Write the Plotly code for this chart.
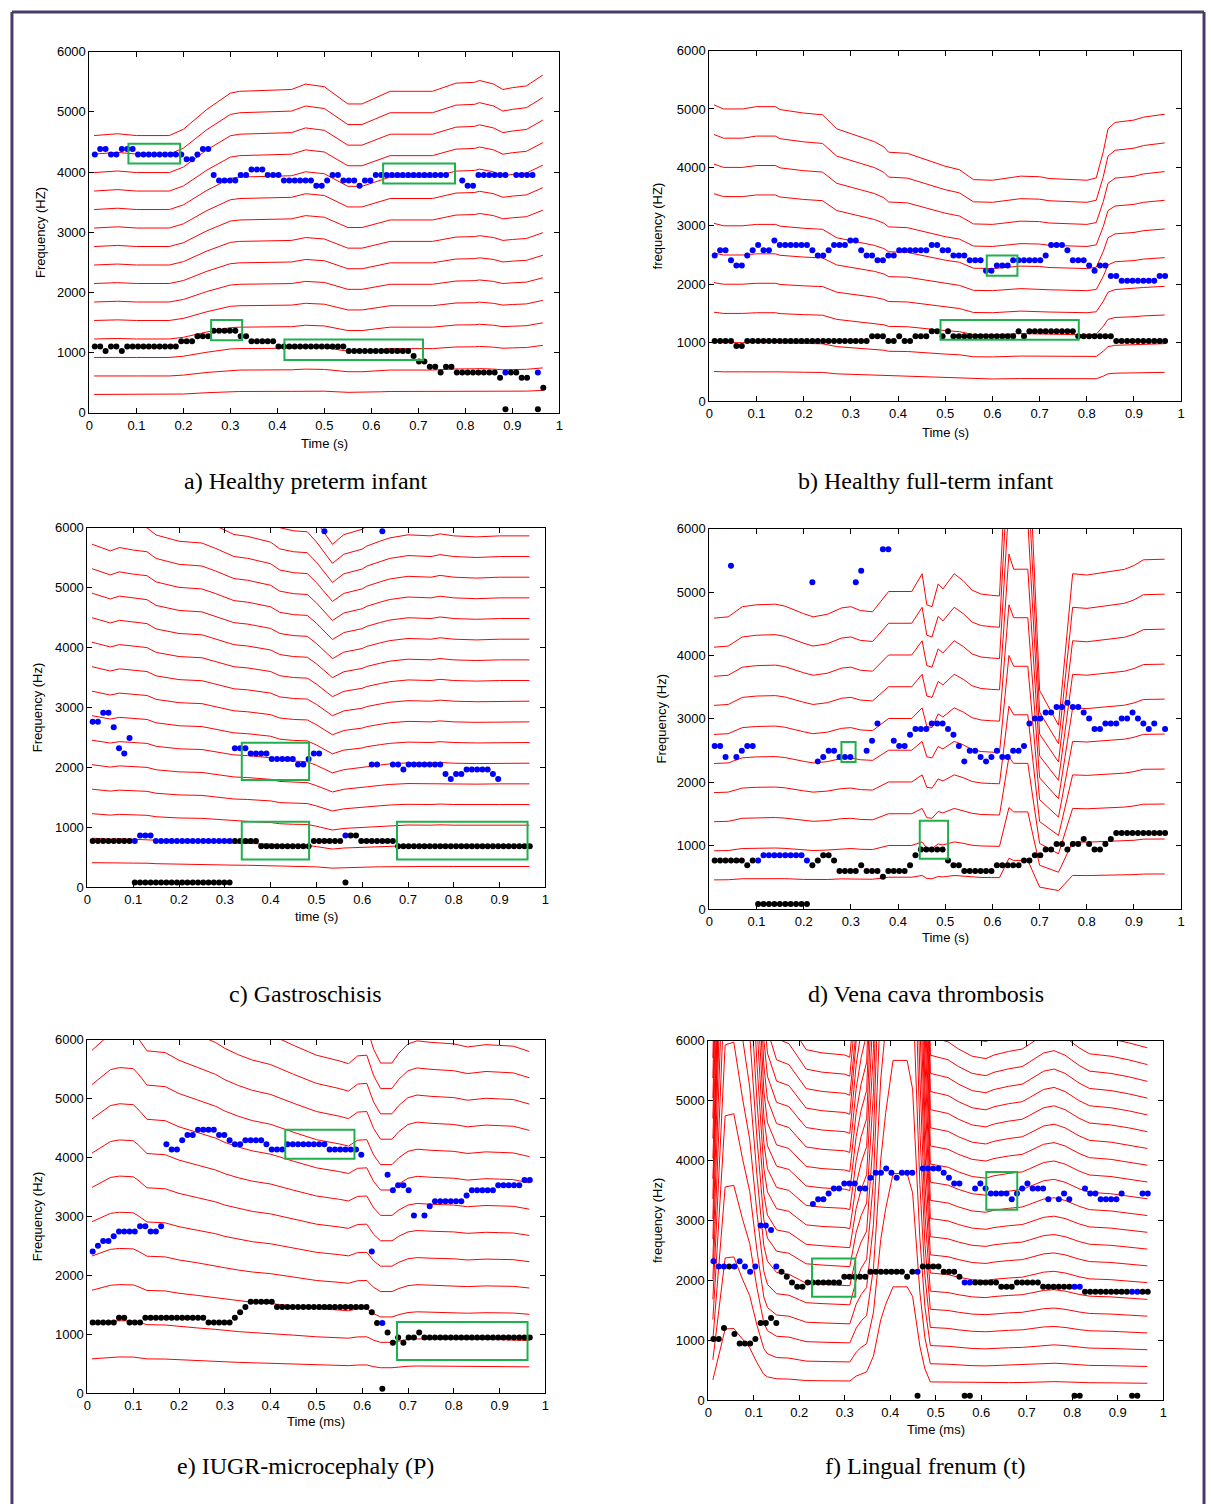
import plotly.graph_objects as go

W, H = 1211, 1512

# analysis frames shared by all six recordings
FRAME_START = 0.0114
FRAME_STEP = 0.0115
N_FRAMES = 84

# ---------------- a) Healthy preterm infant ----------------
A_F0_T = [0.01, 0.06, 0.10, 0.17, 0.20, 0.25, 0.30, 0.32, 0.43, 0.46, 0.50, 0.55,
          0.58, 0.62, 0.64, 0.73, 0.78, 0.82, 0.83, 0.86, 0.88, 0.90, 0.93, 0.965]
A_F0 = [307, 309, 307, 307, 314, 336, 354, 356, 358, 364, 361, 342,
        342, 351, 356, 356, 365, 366, 368, 364, 358, 360, 362, 374]
A_HARMONICS = 15
A_BLUE = [[1, 4290], [2, 4380], [2, 4290], [3, 4380], [9, 4290], [2, 4210], [1, 4290],
          [2, 4380], [1, 3950], [4, 3860], [2, 3950], [3, 4040], [3, 3950], [6, 3860],
          [2, 3770], [1, 3860], [2, 3950], [3, 3860], [1, 3770], [2, 3860], [14, 3950],
          [2, None], [1, 3860], [2, 3770], [6, 3950], [1, None], [4, 3950], [2, None],
          [1, 3860]]
A_BLUE_LOW = [[76, None], [1, 672], [5, None], [1, 672], [1, None]]
A_BLACK = [[2, 1104], [1, 1027], [2, 1104], [1, 1027], [10, 1104], [3, 1191], [3, 1273],
           [5, 1366], [2, 1273], [5, 1191], [13, 1104], [12, 1027], [1, 945], [2, 852],
           [2, 765], [1, 672], [2, 765], [8, 672], [1, 585], [1, 60], [2, 672], [2, 585],
           [1, None], [1, 60], [1, 420]]
A_BOXES = [[0.083, 0.193, 4142, 4470], [0.625, 0.778, 3809, 4142],
           [0.259, 0.325, 1208, 1541], [0.415, 0.710, 880, 1219]]

# ---------------- b) Healthy full-term infant ----------------
B_F0_T = [0.01, 0.03, 0.07, 0.10, 0.14, 0.15, 0.20, 0.24, 0.27, 0.30, 0.35, 0.37, 0.38,
          0.42, 0.50, 0.53, 0.56, 0.60, 0.66, 0.70, 0.72, 0.80, 0.82, 0.835, 0.845, 0.86,
          0.90, 0.92, 0.965]
B_F0 = [507, 500, 500, 504, 504, 499, 493, 490, 466, 458, 444, 435, 426,
        424, 402, 396, 379, 378, 385, 384, 381, 378, 382, 427, 466, 477,
        481, 486, 491]
B_HARMONICS = 10
B_BLUE = [[1, 2490], [2, 2580], [1, 2410], [2, 2320], [1, 2490], [1, 2580], [1, 2670],
          [2, 2580], [1, 2750], [6, 2670], [1, 2580], [2, 2490], [1, 2580], [3, 2670],
          [2, 2750], [1, 2580], [2, 2490], [2, 2410], [2, 2490], [6, 2580], [2, 2670],
          [2, 2580], [3, 2490], [3, 2410], [2, 2230], [3, 2320], [6, 2410], [1, 2490],
          [3, 2670], [1, 2580], [3, 2410], [1, 2320], [1, 2230], [2, 2320], [2, 2140],
          [7, 2060], [2, 2140]]
B_BLACK = [[4, 1026], [2, 942], [23, 1026], [3, 1111], [2, 1026], [1, 1111], [2, 1026],
           [3, 1111], [2, 1196], [1, 1111], [1, 1196], [12, 1111], [1, 1196], [1, 1111],
           [9, 1196], [7, 1111], [10, 1026]]
B_BOXES = [[0.588, 0.653, 2143, 2493], [0.490, 0.783, 1049, 1387]]

# ---------------- c) Gastroschisis ----------------
C_F0_T = [0.01, 0.05, 0.07, 0.10, 0.13, 0.15, 0.20, 0.25, 0.28, 0.32, 0.35, 0.40, 0.42,
          0.45, 0.48, 0.50, 0.535, 0.56, 0.60, 0.61, 0.64, 0.66, 0.70, 0.75, 0.77, 0.80,
          0.85, 0.90, 0.965]
C_F0 = [409, 401, 405, 402, 400, 392, 385, 383, 377, 368, 366, 360, 353,
        350, 349, 339, 318, 327, 332, 335, 340, 343, 346, 345, 347, 345,
        344, 345, 345]
C_HARMONICS = 18
C_BLUE = [[2, 2760], [2, 2910], [1, 2670], [1, 2320], [1, 2230], [1, 2490], [1, 773],
          [3, 861], [15, 773], [3, 2320], [4, 2230], [5, 2140], [2, 2050], [1, 2140],
          [2, 2230], [1, 5940], [3, None], [1, 861], [4, None], [2, 2050], [1, 5940],
          [1, None], [2, 2050], [1, 1965], [7, 2050], [1, 1890], [1, 1805], [2, 1890],
          [5, 1965], [1, 1890], [1, 1805], [6, None]]
C_BLACK = [[8, 773], [19, 77], [5, 773], [10, 684], [6, 773], [1, 77], [2, 861],
           [7, 773], [26, 684]]
C_BOXES = [[0.337, 0.484, 1788, 2412], [0.337, 0.484, 464, 1093],
           [0.676, 0.961, 464, 1093]]

# ---------------- d) Vena cava thrombosis ----------------
D_F0_T = [0.01, 0.04, 0.07, 0.10, 0.14, 0.16, 0.20, 0.22, 0.25, 0.28, 0.30, 0.32, 0.346,
          0.38, 0.429, 0.451, 0.461, 0.472, 0.485, 0.495, 0.519, 0.538, 0.557, 0.576,
          0.598, 0.615, 0.635, 0.645, 0.675, 0.70, 0.74, 0.77, 0.80, 0.85, 0.88, 0.90,
          0.92, 0.965]
D_F0 = [459, 461, 477, 480, 481, 478, 466, 461, 465, 475, 477, 471, 469,
        501, 501, 529, 480, 477, 513, 505, 529, 518, 503, 497,
        495, 494, 800, 766, 766, 345, 290, 529, 527, 532, 536, 542,
        551, 552]
D_HARMONICS = 10
D_BLUE = [[2, 2570], [1, 2400], [1, 5417], [1, 2400], [1, 2495], [2, 2570], [1, 766],
          [8, 849], [1, 766], [1, 5156], [1, 2328], [1, 2400], [2, 2495], [3, 2400],
          [1, 5156], [1, 5339], [1, 2495], [1, 2656], [1, 2927], [2, 5677], [1, 2656],
          [2, 2570], [1, 2750], [3, 2839], [3, 2927], [1, 2839], [1, 2750], [1, 2570],
          [1, 2328], [2, 2495], [1, 2400], [1, 2328], [1, 2400], [1, 2495], [2, 2400],
          [2, 2495], [1, 2570], [1, 2927], [2, 3005], [2, 3099], [2, 3187], [1, 3255],
          [2, 3187], [1, 3099], [1, 3005], [2, 2839], [3, 2927], [2, 3005], [1, 3099],
          [1, 3005], [1, 2927], [1, 2839], [1, 2927], [1, None], [1, 2839]]
D_BLACK = [[6, 766], [1, 688], [1, 766], [10, 78], [1, 688], [1, 766], [2, 849], [1, 766],
           [4, 599], [1, 688], [3, 599], [1, 510], [4, 599], [1, 688], [1, 849], [5, 937],
           [1, 766], [2, 688], [6, 599], [5, 688], [2, 766], [2, 849], [2, 937], [2, 1026],
           [1, 937], [2, 1026], [1, 1104], [1, 1026], [2, 937], [1, 1026], [1, 1104],
           [10, 1198]]
D_BOXES = [[0.280, 0.310, 2318, 2635], [0.446, 0.506, 792, 1391]]

# ---------------- e) IUGR-microcephaly (P) ----------------
E_F0_T = [0.01, 0.03, 0.05, 0.07, 0.10, 0.11, 0.13, 0.17, 0.20, 0.24, 0.28, 0.30, 0.33,
          0.36, 0.40, 0.45, 0.50, 0.55, 0.57, 0.59, 0.61, 0.625, 0.64, 0.665, 0.68, 0.70,
          0.72, 0.75, 0.80, 0.83, 0.87, 0.90, 0.93, 0.965]
E_F0 = [582, 596, 610, 614, 612, 603, 581, 578, 565, 553, 541, 532, 522,
        514, 507, 492, 478, 470, 466, 477, 478, 449, 431, 431, 444, 456,
        460, 458, 456, 452, 455, 454, 453, 446]
E_HARMONICS = 13
E_BLUE = [[1, 2404], [1, 2500], [2, 2584], [1, 2663], [4, 2742], [2, 2831], [2, 2742],
          [1, 2831], [1, 4225], [2, 4135], [1, 4292], [2, 4382], [4, 4472], [2, 4382],
          [1, 4292], [2, 4225], [4, 4292], [1, 4225], [3, 4135], [8, 4225], [6, 4135],
          [1, 4045], [1, None], [1, 2404], [1, None], [1, 1191], [1, 3708], [1, 3444],
          [2, 3528], [1, 3444], [1, 3017], [1, None], [1, 3017], [1, 3174], [6, 3258],
          [1, 3354], [5, 3444], [5, 3528], [2, 3618]]
E_BLACK = [[5, 1197], [2, 1281], [3, 1197], [12, 1281], [5, 1197], [1, 1281], [1, 1371],
           [1, 1461], [5, 1551], [18, 1461], [1, 1371], [1, 1191], [1, 73], [1, 1028],
           [1, 854], [1, 944], [1, 854], [2, 944], [1, 1028], [21, 944]]
E_BOXES = [[0.432, 0.583, 3978, 4472], [0.676, 0.961, 562, 1208]]

# ---------------- f) Lingual frenum (t) ----------------
F_F0_T = [0.01, 0.037, 0.056, 0.075, 0.091, 0.107, 0.122, 0.13, 0.15, 0.177, 0.20, 0.215,
          0.25, 0.30, 0.311, 0.325, 0.336, 0.348, 0.363, 0.379, 0.39, 0.406, 0.437, 0.449,
          0.465, 0.476, 0.488, 0.527, 0.55, 0.58, 0.61, 0.628, 0.66, 0.69, 0.706, 0.737,
          0.76, 0.784, 0.815, 0.838, 0.885, 0.924, 0.965]
F_F0 = [336, 1186, 1195, 1009, 871, 623, 430, 386, 355, 350, 335, 325,
        322, 320, 318, 400, 440, 470, 734, 1340, 1600, 1890, 1890, 1730,
        900, 520, 303, 299, 293, 287, 285, 288, 291, 293, 297, 305,
        307, 303, 294, 289, 287, 284, 280]
F_HARMONICS = 21
F_BLUE = [[19, None], [1, 3271], [2, 3354], [1, 3447], [2, 3530], [3, 3613], [2, 3530],
          [1, 3712], [2, 3795], [1, 3867], [1, 3795], [1, 3712], [3, 3795], [1, None],
          [4, 3867], [1, 3795], [1, 3712], [2, 3613], [2, None], [1, 3530], [1, 3613],
          [1, 3530], [4, 3447], [1, 3354], [1, 3447], [1, 3530], [1, 3613], [3, 3530],
          [1, 3354], [1, None], [1, 3354], [1, 3447], [1, 3354], [2, None], [1, 3530],
          [2, 3447], [4, 3354], [1, 3447], [3, None], [2, 3447]]
F_BLUE_LOW = [[1, 2317], [2, 2228], [1, None], [1, 2228], [1, 2317], [1, 2228], [1, 2140],
              [1, 2228], [2, 2912], [1, 2840], [1, 2228], [26, None], [1, 2140], [8, None],
              [2, 1964], [19, None], [2, 1892], [9, None], [2, 1809], [2, None]]
F_BLACK = [[3, None], [1, 2228], [9, None], [1, 2140], [1, 2057], [1, 1964], [2, 1892],
           [7, 1964], [5, 2057], [7, 2140], [1, 2057], [1, 2140], [1, None], [4, 2228],
           [3, 2140], [1, 2057], [2, None], [5, 1964], [3, 1892], [5, 1964], [6, 1892],
           [2, None], [9, 1809], [2, None], [2, 1809]]
F_BLACK_LOW = [[2, 1020], [1, 1202], [1, None], [1, 1103], [3, 943], [1, 1020], [2, 1285],
               [1, 1368], [1, 1285], [26, None], [1, 72], [8, None], [2, 72], [19, None],
               [2, 72], [9, None], [2, 72], [2, None]]
F_BOXES = [[0.228, 0.323, 1726, 2361], [0.611, 0.679, 3177, 3806]]

X_TICKS = [0, 0.1, 0.2, 0.3, 0.4, 0.5, 0.6, 0.7, 0.8, 0.9, 1]
X_TICK_TEXT = ["0", "0.1", "0.2", "0.3", "0.4", "0.5", "0.6", "0.7", "0.8", "0.9", "1"]
Y_TICKS = [0, 1000, 2000, 3000, 4000, 5000, 6000]

CAPTIONS = ["a) Healthy preterm infant", "b) Healthy full-term infant", "c) Gastroschisis",
            "d) Vena cava thrombosis", "e) IUGR-microcephaly (P)", "f) Lingual frenum (t)"]
X_TITLES = ["Time (s)", "Time (s)", "time (s)", "Time (s)", "Time (ms)", "Time (ms)"]
Y_TITLES = ["Frequency (HZ)", "frequency (HZ)", "Frequency (Hz)", "Frequency (Hz)",
            "Frequency (Hz)", "frequency (Hz)"]


def expand(runs):
    """Run-length list [[count, value], ...] -> one value per analysis frame."""
    out = []
    for count, value in runs:
        out.extend([value] * count)
    return out


frame_t = [FRAME_START + i * FRAME_STEP for i in range(N_FRAMES)]

panels = [
    dict(f0_t=A_F0_T, f0=A_F0, nh=A_HARMONICS, blue=[A_BLUE, A_BLUE_LOW], black=[A_BLACK], boxes=A_BOXES),
    dict(f0_t=B_F0_T, f0=B_F0, nh=B_HARMONICS, blue=[B_BLUE], black=[B_BLACK], boxes=B_BOXES),
    dict(f0_t=C_F0_T, f0=C_F0, nh=C_HARMONICS, blue=[C_BLUE], black=[C_BLACK], boxes=C_BOXES),
    dict(f0_t=D_F0_T, f0=D_F0, nh=D_HARMONICS, blue=[D_BLUE], black=[D_BLACK], boxes=D_BOXES),
    dict(f0_t=E_F0_T, f0=E_F0, nh=E_HARMONICS, blue=[E_BLUE], black=[E_BLACK], boxes=E_BOXES),
    dict(f0_t=F_F0_T, f0=F_F0, nh=F_HARMONICS, blue=[F_BLUE, F_BLUE_LOW],
         black=[F_BLACK, F_BLACK_LOW], boxes=F_BOXES),
]

# plot-area rectangles in page pixels: left, right, top, bottom
frames_px = [
    (86, 559, 45, 410), (710, 1185, 44, 398),
    (84, 545, 526, 889), (710, 1185, 527, 911),
    (84, 545, 1043, 1400), (709, 1167, 1044, 1407),
]
caption_y = [479, 479, 997, 997, 1474, 1474]
caption_x = [304, 928, 304, 928, 304, 928]
xtitle_y = [441, 430, 919, 940, 1429, 1437]
ytitle_x = [36, 658, 34, 662, 34, 658]

RED, BLUE, BLACK, GREEN = "#ff0000", "#0000ff", "#000000", "#1fb04e"
TICK_FONT = dict(family="Liberation Sans, Arial, sans-serif", size=13, color="black")

fig = go.Figure()
layout = dict(width=W, height=H, margin=dict(l=0, r=0, t=0, b=0),
              paper_bgcolor="white", plot_bgcolor="white", showlegend=False)
shapes, annotations = [], []


def px_x(x):
    return x / W


def px_y(y):
    return 1 - y / H


for n, (p, (l, r, t, b)) in enumerate(zip(panels, frames_px), start=1):
    xa = "x" if n == 1 else f"x{n}"
    ya = "y" if n == 1 else f"y{n}"
    axis_common = dict(showline=True, linecolor="black", linewidth=1, mirror="ticks",
                       ticks="inside", ticklen=5, tickcolor="black", showgrid=False,
                       zeroline=False, tickfont=TICK_FONT)
    layout["xaxis" if n == 1 else f"xaxis{n}"] = dict(
        domain=[px_x(l), px_x(r)], range=[0, 1], anchor=ya,
        tickvals=X_TICKS, ticktext=X_TICK_TEXT, **axis_common)
    layout["yaxis" if n == 1 else f"yaxis{n}"] = dict(
        domain=[px_y(b), px_y(t)], range=[0, 6000], anchor=xa,
        tickvals=Y_TICKS, **axis_common)

    # harmonic tracks of the fundamental
    for k in range(1, p["nh"] + 1):
        fig.add_trace(go.Scatter(x=p["f0_t"], y=[k * f for f in p["f0"]], mode="lines",
                                 line=dict(color=RED, width=1), xaxis=xa, yaxis=ya,
                                 hoverinfo="skip"))
    for runs in p["black"]:
        fig.add_trace(go.Scatter(x=frame_t, y=expand(runs), mode="markers",
                                 marker=dict(color=BLACK, size=6), xaxis=xa, yaxis=ya))
    for runs in p["blue"]:
        fig.add_trace(go.Scatter(x=frame_t, y=expand(runs), mode="markers",
                                 marker=dict(color=BLUE, size=6), xaxis=xa, yaxis=ya))
    for x0, x1, y0, y1 in p["boxes"]:
        shapes.append(dict(type="rect", xref=xa, yref=ya, x0=x0, x1=x1, y0=y0, y1=y1,
                           line=dict(color=GREEN, width=2), layer="above"))

    annotations.append(dict(text=X_TITLES[n - 1], xref="paper", yref="paper",
                            x=px_x((l + r) / 2), y=px_y(xtitle_y[n - 1]), showarrow=False,
                            xanchor="center", yanchor="middle", font=TICK_FONT))
    annotations.append(dict(text=Y_TITLES[n - 1], xref="paper", yref="paper",
                            x=px_x(ytitle_x[n - 1]), y=px_y((t + b) / 2), showarrow=False,
                            textangle=-90, xanchor="center", yanchor="middle",
                            font=TICK_FONT))
    annotations.append(dict(text=CAPTIONS[n - 1], xref="paper", yref="paper",
                            x=px_x(caption_x[n - 1]), y=px_y(caption_y[n - 1]),
                            showarrow=False, xanchor="center", yanchor="middle",
                            font=dict(family="Liberation Serif, Times New Roman, serif",
                                      size=24, color="black")))

# page frame
FRAME_COLOR = "#4a3c68"
for x0, y0, x1, y1 in [(8, 5, 1208, 5), (8, 5, 8, H), (1208, 5, 1208, H)]:
    shapes.append(dict(type="line", xref="paper", yref="paper",
                       x0=px_x(x0), y0=px_y(y0), x1=px_x(x1), y1=px_y(y1),
                       line=dict(color=FRAME_COLOR, width=3)))

layout["shapes"] = shapes
layout["annotations"] = annotations
fig.update_layout(**layout)
fig.write_html("out.html")
